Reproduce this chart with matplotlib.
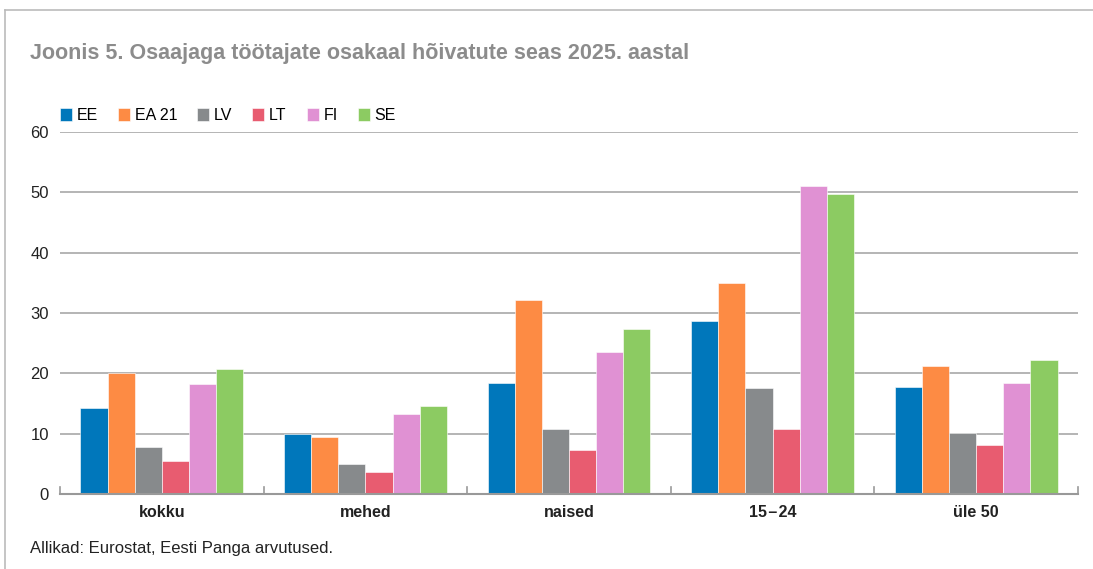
import numpy as np
import matplotlib
matplotlib.use('Agg')
import matplotlib.pyplot as plt
from matplotlib.lines import Line2D

CATEGORIES = ['kokku', 'mehed', 'naised', '15\u200a\u2013\u200a24', 'üle 50']
SERIES = ['EE', 'EA 21', 'LV', 'LT', 'FI', 'SE']
COLORS = ['#0077bb', '#fd8b44', '#878a8c', '#e85c70', '#e091d3', '#8ccb62']

EE = [14.3, 10.0, 18.4, 28.7, 17.7]
EA21 = [20.0, 9.4, 32.2, 34.9, 21.2]
LV = [7.8, 5.0, 10.8, 17.6, 10.1]
LT = [5.5, 3.6, 7.3, 10.7, 8.1]
FI = [18.2, 13.3, 23.5, 51.0, 18.4]
SE = [20.7, 14.6, 27.3, 49.7, 22.2]

TITLE = 'Joonis 5. Osaajaga töötajate osakaal hõivatute seas 2025. aastal'
SOURCE = 'Allikad: Eurostat, Eesti Panga arvutused.'


def main():
    plt.rcParams['font.family'] = ['Liberation Sans', 'DejaVu Sans']
    values = [EE, EA21, LV, LT, FI, SE]

    fig = plt.figure(figsize=(10.93, 5.69), dpi=100)
    ax = fig.add_axes([60 / 1093, 75 / 569, 1018 / 1093, 362 / 569])

    x = np.arange(len(CATEGORIES))
    width = 0.8 / len(SERIES)
    for i, (name, vals) in enumerate(zip(SERIES, values)):
        offset = (i - (len(SERIES) - 1) / 2) * width
        ax.bar(x + offset, vals, width, color=COLORS[i], label=name,
               edgecolor='white', linewidth=0.4, zorder=3)

    ax.set_xlim(-0.5, len(CATEGORIES) - 0.5)
    ax.set_ylim(0, 60)
    ax.set_yticks(range(0, 61, 10))
    ax.grid(axis='y', color='#a8a8a8', linewidth=1.2, zorder=0)
    ax.tick_params(axis='y', length=0, pad=8, labelsize=12, labelcolor='#222222')

    ax.set_xticks(x)
    ax.set_xticklabels(CATEGORIES, fontweight='bold', fontsize=11.5, color='#222222')
    ax.tick_params(axis='x', length=0, pad=8)
    # group separator ticks pointing up
    for b in np.arange(-0.5, len(CATEGORIES), 1.0):
        ax.add_line(Line2D([b, b], [0, 1.1], color='#999999', linewidth=1.2,
                           zorder=4, clip_on=False))

    for side in ['left', 'right', 'top']:
        ax.spines[side].set_visible(False)
    ax.spines['bottom'].set_color('#999999')
    ax.spines['bottom'].set_linewidth(1.5)
    ax.spines['bottom'].set_zorder(5)

    ax.legend(loc='lower left', bbox_to_anchor=(0.0, 1.025), ncol=6, frameon=False,
              handlelength=0.75, handleheight=0.95, handletextpad=0.3,
              columnspacing=1.25, fontsize=11.5, borderaxespad=0, borderpad=0)

    fig.text(30 / 1093, 1 - 53 / 569, TITLE, fontsize=15.5, fontweight='bold',
             color='#8c8c8c', va='center', ha='left')
    fig.text(30 / 1093, 1 - 549 / 569, SOURCE, fontsize=12, color='#222222',
             va='center', ha='left')

    # light frame on top and left
    fig.add_artist(Line2D([5 / 1093, 5 / 1093], [0, 1 - 10 / 569], color='#bbbbbb',
                          linewidth=1.2, transform=fig.transFigure))
    fig.add_artist(Line2D([5 / 1093, 1], [1 - 10 / 569, 1 - 10 / 569], color='#bbbbbb',
                          linewidth=1.2, transform=fig.transFigure))

    fig.savefig('out.png', dpi=100)


if __name__ == "__main__":
    main()
